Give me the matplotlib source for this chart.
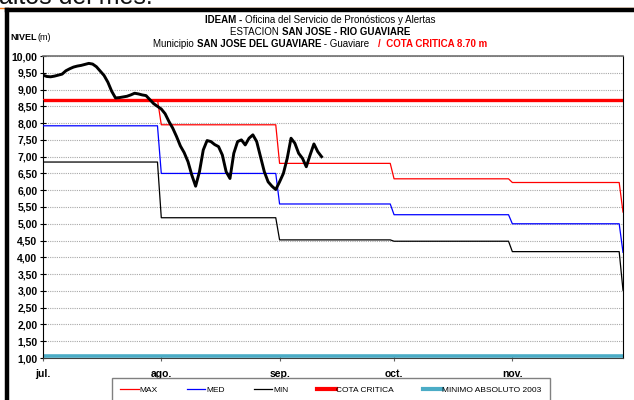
import numpy as np
import matplotlib.pyplot as plt
from matplotlib.lines import Line2D
from matplotlib.ticker import FuncFormatter, FixedLocator

plt.rcParams['font.family'] = ['Liberation Sans', 'DejaVu Sans']

# --- monthly reference levels (jul..nov, then the value the series drops to at the end) ---
MONTHS = ["jul.", "ago.", "sep.", "oct.", "nov."]
MONTH_START = [0, 31, 62, 92, 123]
LAST_DAY = 152
NIVEL_MAX = [8.70, 7.95, 6.80, 6.34, 6.23, 5.35]
NIVEL_MED = [7.92, 6.50, 5.59, 5.27, 5.00, 4.15]
NIVEL_MIN = [6.84, 5.18, 4.52, 4.48, 4.17, 3.02]
COTA_CRITICA = 8.70
MINIMO_2003 = 1.06

# --- daily observed level, from jul. 1 ---
NIVEL_OBS = [
    9.43, 9.39, 9.38, 9.40, 9.43, 9.46, 9.56, 9.62, 9.67, 9.70,
    9.72, 9.75, 9.78, 9.76, 9.68, 9.55, 9.42, 9.22, 8.95, 8.75,
    8.76, 8.78, 8.80, 8.84, 8.89, 8.87, 8.84, 8.82, 8.70, 8.58,
    8.50, 8.42, 8.28, 8.05, 7.85, 7.60, 7.32, 7.12, 6.85, 6.45,
    6.12, 6.55, 7.20, 7.48, 7.45, 7.36, 7.30, 7.05, 6.55, 6.35,
    7.10, 7.45, 7.50, 7.35, 7.55, 7.65, 7.45, 7.00, 6.55, 6.25,
    6.12, 6.02, 6.25, 6.50, 6.95, 7.55, 7.40, 7.10, 6.95, 6.70,
    7.05, 7.38, 7.15, 7.00,
]

HEADER = [
    [("IDEAM - ", "bold", "black"), ("Oficina del Servicio de Pronósticos y Alertas", "normal", "black")],
    [("ESTACION ", "normal", "black"), ("SAN JOSE - RIO GUAVIARE", "bold", "black")],
    [("Municipio ", "normal", "black"), ("SAN JOSE DEL GUAVIARE", "bold", "black"),
     (" - Guaviare   ", "normal", "black"), ("/  COTA CRITICA 8.70 m", "bold", "#FF0000")],
]


def step_series(levels):
    # each month is flat from its first to its last day, then a one-day ramp to the next
    xs, ys = [], []
    ends = MONTH_START[1:] + [LAST_DAY]
    for i, start in enumerate(MONTH_START):
        end = ends[i] - 1
        xs += [start, end]
        ys += [levels[i], levels[i]]
    xs.append(LAST_DAY)
    ys.append(levels[-1])
    return xs, ys


def centered_line(fig, pieces, cx, y, size):
    # lay the pieces side by side, then shift the whole line so it is centred on cx
    renderer = fig.canvas.get_renderer()
    texts, widths = [], []
    for s, weight, color in pieces:
        t = fig.text(0, y, s, fontsize=size, fontweight=weight, color=color, ha="left", va="center")
        widths.append(t.get_window_extent(renderer).width / fig.bbox.width)
        texts.append(t)
    x = cx - sum(widths) / 2
    for t, w in zip(texts, widths):
        t.set_x(x)
        x += w


fig = plt.figure(figsize=(6.34, 4.0), dpi=100, facecolor="white")

# heading cut by the top of the page
fig.text(-0.002, 1 - 3.5 / 400, "altos del mes.", fontsize=18, color="#111111", va="baseline", ha="left")
fig.add_artist(Line2D([0, 1], [1 - 7.5 / 400] * 2, transform=fig.transFigure, color="#F07D1E", lw=1.0))
# frame around the chart (top and left)
fig.add_artist(Line2D([7 / 634, 1], [1 - 10 / 400] * 2, transform=fig.transFigure, color="black", lw=3.2))
fig.add_artist(Line2D([7 / 634] * 2, [0, 1 - 10 / 400], transform=fig.transFigure, color="black", lw=3.2))

ax = fig.add_axes([43 / 634, 1 - 358 / 400, 580 / 634, 302 / 400])

for levels, color in [(NIVEL_MAX, "#FF0000"), (NIVEL_MED, "#0000FF"), (NIVEL_MIN, "black")]:
    xs, ys = step_series(levels)
    ax.plot(xs, ys, color=color, lw=0.9, zorder=3)

ax.axhline(COTA_CRITICA, color="#FF0000", lw=2.4, zorder=2)
ax.axhline(MINIMO_2003, color="#4BACC6", lw=2.6, zorder=2)
ax.plot(np.arange(len(NIVEL_OBS)), NIVEL_OBS, color="black", lw=2.1, zorder=4, solid_joinstyle="round")

ax.set_xlim(0, LAST_DAY)
ax.set_ylim(1.0, 10.0)

ax.yaxis.set_major_locator(FixedLocator(np.arange(1.0, 10.01, 0.5)))
ax.yaxis.set_major_formatter(FuncFormatter(lambda v, _: f"{v:.2f}".replace(".", ",")))
ax.set_xticks(MONTH_START)
ax.set_xticklabels(MONTHS)
ax.tick_params(axis="y", labelsize=7.5, direction="inout", length=4, width=0.8, pad=2)
ax.tick_params(axis="x", labelsize=7.5, direction="inout", length=4, width=0.8, pad=6, color="#606060")
for lab in ax.get_yticklabels() + ax.get_xticklabels():
    lab.set_fontweight("bold")

ax.grid(axis="y", color="#A8A8A8", lw=0.8, linestyle=(0, (1, 1)))
ax.spines["top"].set_color("#707070")
ax.spines["top"].set_linewidth(1.2)
ax.spines["right"].set_color("black")
ax.spines["left"].set_color("black")
ax.spines["bottom"].set_color("#404040")

# header
for i, pieces in enumerate(HEADER):
    centered_line(fig, pieces, 0.505, 1 - (20 + 12 * i) / 400, 7)
fig.text(10 / 634, 1 - 37 / 400, "NIVEL", ha="left", va="center", fontsize=6.5, fontweight="bold")
fig.text(37 / 634, 1 - 37 / 400, "(m)", ha="left", va="center", fontsize=6.5)

handles = [
    Line2D([], [], color="#FF0000", lw=0.9),
    Line2D([], [], color="#0000FF", lw=0.9),
    Line2D([], [], color="black", lw=0.9),
    Line2D([], [], color="#FF0000", lw=3),
    Line2D([], [], color="#4BACC6", lw=3),
]
fig.legend(handles, ["MAX", "MED", "MIN", "COTA CRITICA", "MINIMO ABSOLUTO 2003"],
           loc="upper center", bbox_to_anchor=(331 / 634, 1 - 373.5 / 400), ncol=5, fontsize=6,
           frameon=True, fancybox=False, edgecolor="#606060", handlelength=2.2, handletextpad=0.1,
           columnspacing=3.5, borderpad=1.0)

fig.savefig("out.png", dpi=100, facecolor="white")
